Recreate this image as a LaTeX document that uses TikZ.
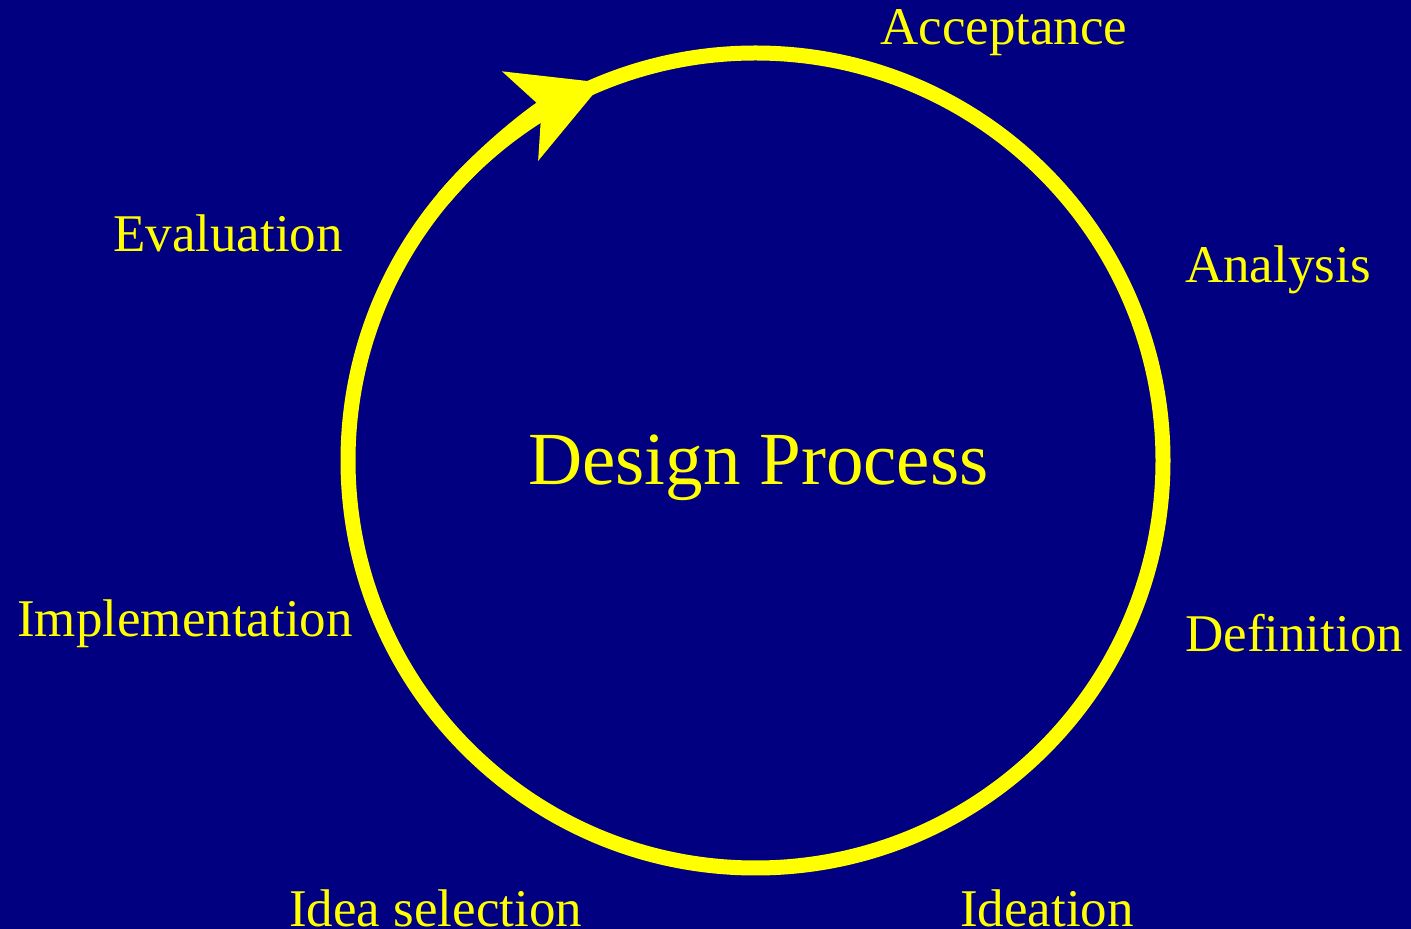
\documentclass[tikz,border=0pt]{standalone}
\usepackage{fontspec}
\setmainfont{Liberation Serif}
\usetikzlibrary{arrows.meta}
\definecolor{procnavy}{RGB}{0,0,128}
\definecolor{procyellow}{RGB}{255,255,0}
\begin{document}
\begin{tikzpicture}
  [x=1pt,y=1pt,
   every node/.style={text=procyellow,inner sep=0pt,anchor=base west,
     font=\fontsize{53}{60}\selectfont},
   ring/.style={draw=procyellow,line width=15pt}]
  \fill[procnavy] (0,0) rectangle (1411,929);
  \useasboundingbox (0,0) rectangle (1411,929);

  \coordinate (c) at (755.5,468.5);
  \draw[ring] (c) circle (407.5);
  \draw[ring,-{Stealth[length=88pt,width=94pt,inset=22pt,fill=procyellow]}]
    (c) ++(140:407.5) arc[start angle=140,end angle=112,radius=407.5];

  \node (title) at (528,444) {\fontsize{75}{82}\selectfont Design Process};
  \node (acc) at (880,884) {Acceptance};
  \node (ana) at (1185,646) {Analysis};
  \node (dfn) at (1185,277) {Definition};
  \node (ide) at (960,2)    {Ideation};
  \node (sel) at (289,2)    {Idea selection};
  \node (imp) at (17,292)   {Implementation};
  \node (eva) at (113,677)  {Evaluation};
\end{tikzpicture}
\end{document}
